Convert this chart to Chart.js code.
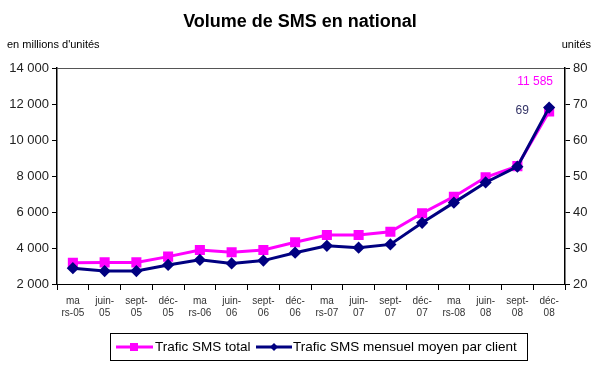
<!DOCTYPE html>
<html>
<head>
<meta charset="utf-8">
<script src="https://cdn.jsdelivr.net/npm/chart.js@4/dist/chart.umd.min.js"></script>
<style>
  html, body { margin: 0; padding: 0; background: #fff; }
  #wrap { width: 600px; height: 372px; position: relative; }
</style>
</head>
<body>
<div id="wrap"><canvas id="c" width="600" height="372"></canvas></div>
<script>
const categories = [
    ['ma', 'rs-05'], ['juin-', '05'], ['sept-', '05'], ['déc-', '05'],
    ['ma', 'rs-06'], ['juin-', '06'], ['sept-', '06'], ['déc-', '06'],
    ['ma', 'rs-07'], ['juin-', '07'], ['sept-', '07'], ['déc-', '07'],
    ['ma', 'rs-08'], ['juin-', '08'], ['sept-', '08'], ['déc-', '08']
];
// millions d'unités (left axis)
const traficTotal = [3180, 3200, 3200, 3520, 3890, 3760, 3890, 4320, 4720, 4720, 4900, 5930, 6850, 7930, 8550, 11585];
// unités par client (right axis)
const traficMoyen = [24.4, 23.6, 23.6, 25.3, 26.7, 25.7, 26.5, 28.7, 30.6, 30.1, 31, 37, 42.6, 48.2, 52.6, 69];
const leftTicks = [2000, 4000, 6000, 8000, 10000, 12000, 14000];
const rightTicks = [20, 30, 40, 50, 60, 70, 80];

const PINK = '#ff00ff';
const NAVY = '#000080';
const FONT = '"Liberation Sans", Arial, sans-serif';

function fmt(v) {
    return String(v).replace(/\B(?=(\d{3})+(?!\d))/g, ' ');
}

const decor = {
    id: 'decor',
    afterDraw(chart) {
        const c = chart.ctx;
        c.save();
        // title + axis titles
        c.fillStyle = '#000';
        c.textBaseline = 'middle';
        c.textAlign = 'center';
        c.font = 'bold 18px ' + FONT;
        c.fillText('Volume de SMS en national', 300, 22);
        c.font = '11px ' + FONT;
        c.textAlign = 'left';
        c.fillText("en millions d'unités", 7, 45);
        c.textAlign = 'right';
        c.fillText('unités', 591, 45);

        // labels on last points
        const last = traficTotal.length - 1;
        const pPink = chart.getDatasetMeta(1).data[last];
        const pNavy = chart.getDatasetMeta(0).data[last];
        c.font = '12px ' + FONT;
        c.textAlign = 'center';
        c.fillStyle = PINK;
        c.fillText(fmt(traficTotal[last]), pPink.x - 14, 82);
        c.fillStyle = '#333366';
        c.fillText(String(traficMoyen[last]), pNavy.x - 27, 111);

        // legend box
        c.strokeStyle = '#000';
        c.lineWidth = 1;
        c.strokeRect(110.5, 333.5, 417, 27);
        const ly = 347;
        c.lineWidth = 3;
        c.strokeStyle = PINK;
        c.beginPath(); c.moveTo(116, ly); c.lineTo(153, ly); c.stroke();
        c.fillStyle = PINK;
        c.fillRect(130, ly - 4, 8, 8);
        c.strokeStyle = NAVY;
        c.beginPath(); c.moveTo(256, ly); c.lineTo(292, ly); c.stroke();
        c.fillStyle = NAVY;
        c.beginPath();
        c.moveTo(274, ly - 4); c.lineTo(278, ly); c.lineTo(274, ly + 4); c.lineTo(270, ly);
        c.closePath(); c.fill();
        c.fillStyle = '#000';
        c.font = '13.5px ' + FONT;
        c.textAlign = 'left';
        c.fillText('Trafic SMS total', 155, ly);
        c.fillText('Trafic SMS mensuel moyen par client', 293, ly);
        c.restore();
    }
};

new Chart(document.getElementById('c'), {
    type: 'line',
    data: {
        labels: categories,
        datasets: [
            {
                label: 'Trafic SMS mensuel moyen par client',
                data: traficMoyen,
                yAxisID: 'y1',
                borderColor: NAVY,
                backgroundColor: NAVY,
                borderWidth: 3,
                pointStyle: 'rectRot',
                pointRadius: 4,
                tension: 0
            },
            {
                label: 'Trafic SMS total',
                data: traficTotal,
                yAxisID: 'y',
                borderColor: PINK,
                backgroundColor: PINK,
                borderWidth: 3,
                pointStyle: 'rect',
                pointRadius: 5,
                tension: 0
            }
        ]
    },
    options: {
        responsive: false,
        animation: false,
        events: [],
        layout: { padding: { top: 68, bottom: 40, left: 0, right: 0 } },
        plugins: {
            legend: { display: false },
            tooltip: { enabled: false }
        },
        scales: {
            x: {
                offset: true,
                grid: {
                    offset: true,
                    color: 'transparent',
                    tickColor: '#000',
                    tickLength: 6,
                    drawOnChartArea: false
                },
                border: { color: '#000', width: 1 },
                ticks: {
                    color: '#333',
                    font: { family: FONT, size: 10 },
                    maxRotation: 0,
                    autoSkip: false,
                    padding: 5
                },
                afterFit(scale) { scale.height = 48; }
            },
            y: {
                position: 'left',
                min: 2000,
                max: 14000,
                afterBuildTicks(scale) { scale.ticks = leftTicks.map(v => ({ value: v })); },
                grid: {
                    color: (ctx) => ctx.tick && ctx.tick.value === 14000 ? '#555' : 'transparent',
                    tickColor: '#000',
                    tickLength: 5
                },
                border: { color: '#000', width: 1.5 },
                ticks: {
                    color: '#222',
                    font: { family: FONT, size: 13 },
                    padding: 3,
                    callback: (v) => fmt(v)
                },
                afterFit(scale) { scale.width = 57; }
            },
            y1: {
                position: 'right',
                min: 20,
                max: 80,
                afterBuildTicks(scale) { scale.ticks = rightTicks.map(v => ({ value: v })); },
                grid: {
                    drawOnChartArea: false,
                    tickColor: '#000',
                    tickLength: 5
                },
                border: { color: '#000', width: 1.5 },
                ticks: {
                    color: '#222',
                    font: { family: FONT, size: 13 },
                    padding: 3
                },
                afterFit(scale) { scale.width = 35; }
            }
        }
    },
    plugins: [decor]
});
</script>
</body>
</html>
